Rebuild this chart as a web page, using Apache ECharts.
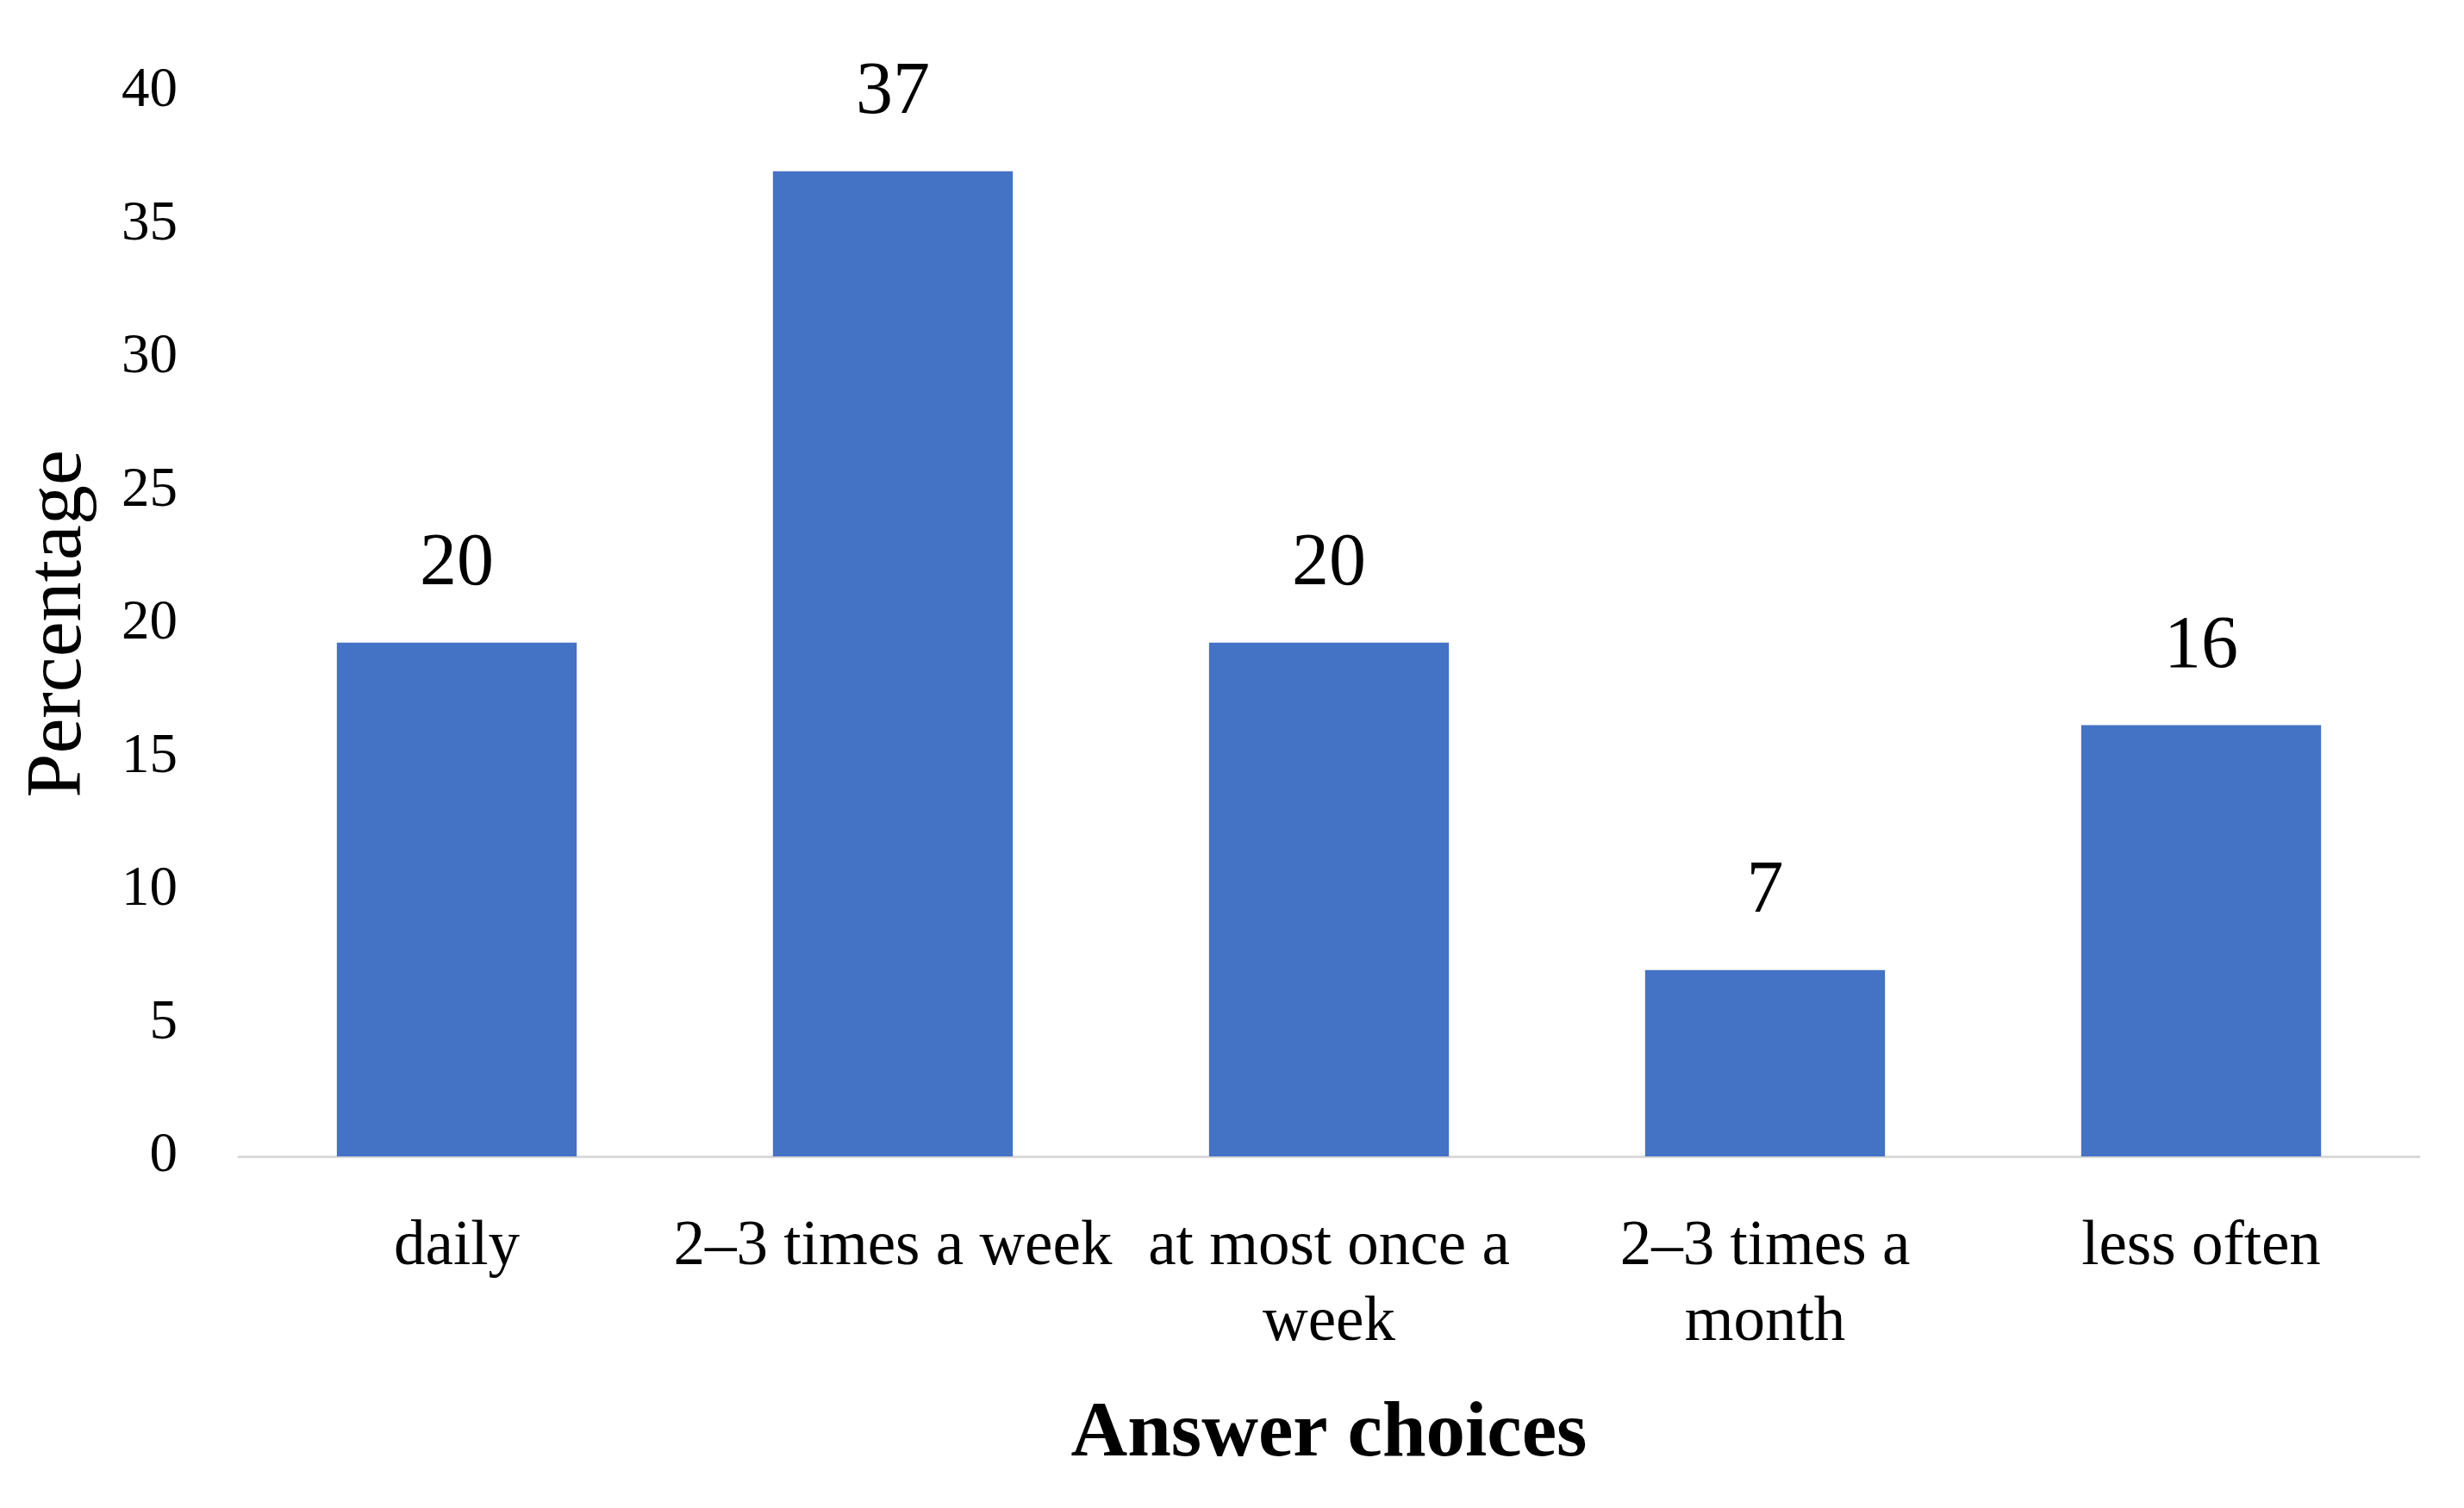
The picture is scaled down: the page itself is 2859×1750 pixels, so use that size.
<!DOCTYPE html>
<html>
<head>
<meta charset="utf-8">
<script src="https://cdn.jsdelivr.net/npm/echarts@6/dist/echarts.min.js"></script>
<style>
html,body{margin:0;padding:0;background:#fff;}
#chart{width:2859px;height:1750px;}
</style>
</head>
<body>
<div id="chart"></div>
<script>
const categories = ["daily", "2–3 times a week", "at most once a week", "2–3 times a month", "less often"];
const values = [19.3, 37, 19.3, 7, 16.2];
const valueLabels = ["20", "37", "20", "7", "16"];
const yTicks = [0, 5, 10, 15, 20, 25, 30, 35, 40];

// wrap words so that each line holds at most maxChars characters
function wrapWords(text, maxChars) {
  const words = text.split(' ');
  const lines = [];
  let cur = '';
  words.forEach(w => {
    const trial = cur ? cur + ' ' + w : w;
    if (trial.length > maxChars && cur) { lines.push(cur); cur = w; }
    else { cur = trial; }
  });
  if (cur) lines.push(cur);
  return lines.join('\n');
}

const FONT = "'Liberation Serif', 'DejaVu Serif', serif";
const chart = echarts.init(document.getElementById('chart'), null, {renderer: 'canvas'});
chart.setOption({
  backgroundColor: '#ffffff',
  animation: false,
  grid: {left: 277, right: 52, top: 106, bottom: 408, containLabel: false},
  xAxis: {
    type: 'category',
    data: categories,
    name: 'Answer choices',
    nameLocation: 'middle',
    nameGap: 278,
    nameTextStyle: {fontFamily: FONT, fontSize: 91, fontWeight: 'bold', color: '#000'},
    axisLine: {show: true, lineStyle: {color: '#d9d9d9', width: 3}},
    axisTick: {show: false},
    axisLabel: {
      fontFamily: FONT, fontSize: 73, color: '#000', margin: 62,
      lineHeight: 88, interval: 0,
      formatter: v => wrapWords(v, 16)
    }
  },
  yAxis: {
    type: 'value',
    min: yTicks[0],
    max: yTicks[yTicks.length - 1],
    interval: yTicks[1] - yTicks[0],
    name: 'Percentage',
    nameLocation: 'middle',
    nameRotate: 90,
    nameGap: 162,
    nameTextStyle: {fontFamily: FONT, fontSize: 92, color: '#000'},
    axisLine: {show: false},
    axisTick: {show: false},
    splitLine: {show: false},
    axisLabel: {fontFamily: FONT, fontSize: 65, color: '#000', margin: 71}
  },
  series: [{
    type: 'bar',
    data: values,
    barWidth: '55%',
    itemStyle: {color: '#4472C4'},
    label: {
      show: true,
      position: 'top',
      distance: 47,
      fontFamily: FONT,
      fontSize: 86,
      color: '#000',
      formatter: p => valueLabels[p.dataIndex]
    }
  }]
});
</script>
</body>
</html>
